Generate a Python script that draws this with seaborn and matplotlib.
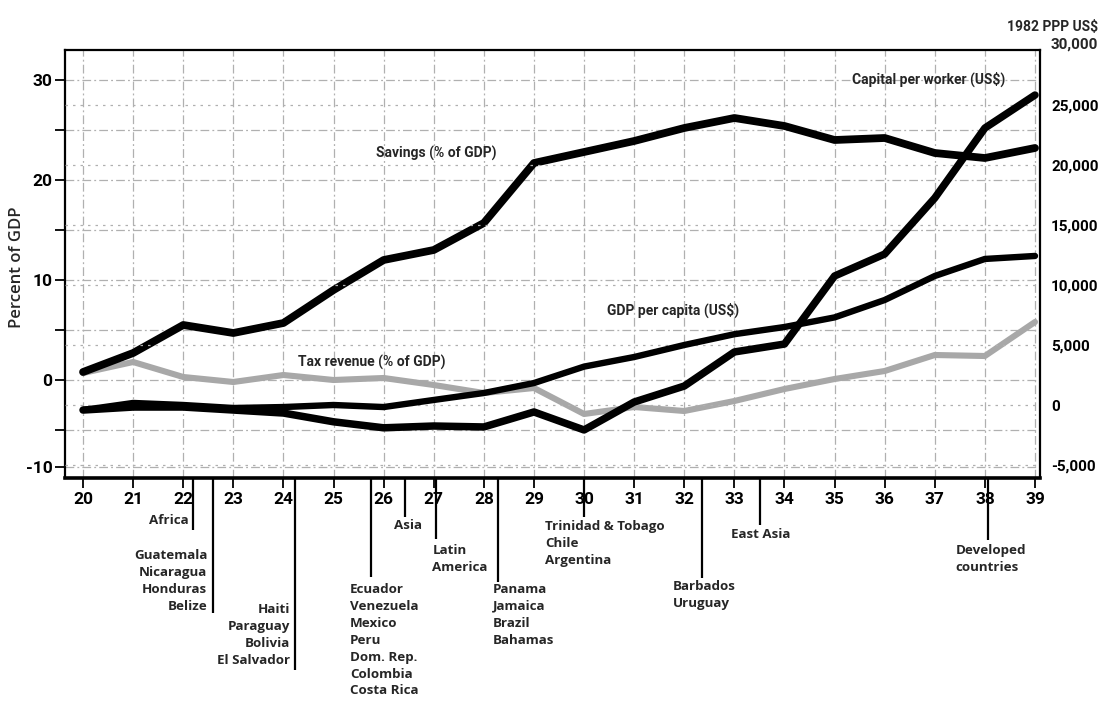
import matplotlib
matplotlib.use("Agg")
import matplotlib.pyplot as plt
import seaborn as sns
import numpy as np
import pandas as pd

# ---------------- data ----------------
years = list(range(20, 40))
savings_pct = [0.8, 2.7, 5.5, 4.7, 5.7, 9.0, 12.0, 13.0, 15.7, 21.7,
               22.8, 23.9, 25.2, 26.2, 25.4, 24.0, 24.2, 22.7, 22.2, 23.2]
tax_pct = [0.7, 1.8, 0.3, -0.2, 0.5, 0.0, 0.2, -0.5, -1.3, -0.8,
           -3.4, -2.7, -3.1, -2.1, -0.9, 0.1, 0.9, 2.5, 2.4, 5.8]
gdp_per_capita = [-420, 170, 0, -250, -170, 0, -170, 420, 1000, 1830,
                  3200, 4000, 5000, 5900, 6500, 7300, 8750, 10750, 12170, 12420]
capital_per_worker = [-420, -170, -170, -420, -670, -1400, -1900, -1750, -1830, -580,
                      -2080, 250, 1580, 4420, 5080, 10750, 12580, 17250, 23080, 25830]

left_ticks = [-10, 0, 10, 20, 30]
right_ticks = [-5000, 0, 5000, 10000, 15000, 20000, 25000, 30000]

group_x = [22.2, 22.6, 24.23, 25.75, 26.42, 27.05, 28.28, 30.0, 32.35, 33.52, 38.07]
group_labels = [
    "Africa",
    "Guatemala\nNicaragua\nHonduras\nBelize",
    "Haiti\nParaguay\nBolivia\nEl Salvador",
    "Ecuador\nVenezuela\nMexico\nPeru\nDom. Rep.\nColombia\nCosta Rica",
    "Asia",
    "Latin\nAmerica",
    "Panama\nJamaica\nBrazil\nBahamas",
    "Trinidad & Tobago\nChile\nArgentina",
    "Barbados\nUruguay",
    "East Asia",
    "Developed\ncountries",
]

df = pd.DataFrame({"year": years, "savings": savings_pct, "tax": tax_pct,
                   "gdp": gdp_per_capita, "capital": capital_per_worker})

# ---------------- style ----------------
sns.set_style("white")
NARROW = ["Roboto", "DejaVu Sans"]
OPEN = ["Open Sans", "DejaVu Sans"]
plt.rcParams["font.family"] = NARROW

W, H = 1100, 705
fig = plt.figure(figsize=(W / 100, H / 100), dpi=100)
# frame: x 65..1040, y 50..478 (pixels)
ax = fig.add_axes([65 / W, 1 - 478 / H, (1040 - 65) / W, (478 - 50) / H])
ax2 = ax.twinx()

ax.set_xlim(19.64, 39.10)
ax.set_ylim(-9.8, 33.0)
ax2.set_ylim(-6083, 29583)

grid_col = "#b0b0b0"
ax.set_xticks(years)
ax.set_xticklabels([str(y) for y in years])
# the -10 label sits a little higher than a linear scale would put it in the reference
left_pos = [-8.7 if v == -10 else v for v in left_ticks]
ax.set_yticks(left_pos)
ax.set_yticklabels([str(v) for v in left_ticks])
ax.set_yticks([-5, 5, 15, 25], minor=True)
ax.grid(True, axis="both", which="both", color=grid_col, lw=0.9,
        linestyle=(0, (7, 2.5, 1.5, 2.5)), zorder=0)
ax.set_axisbelow(True)

shown_right = [t for t in right_ticks if t < 30000]
ax2.set_yticks(shown_right)
ax2.set_yticklabels([f"{t:,}" for t in shown_right])
ax2.grid(True, axis="y", color=grid_col, lw=0.9, linestyle=(0, (2, 4)))
ax2.set_axisbelow(True)

for lbl in ax.get_xticklabels() + ax.get_yticklabels():
    lbl.set_family(NARROW)
    lbl.set_fontweight("bold")
    lbl.set_fontsize(12.5)
for lbl in ax2.get_yticklabels():
    lbl.set_family(NARROW)
    lbl.set_fontweight("bold")
    lbl.set_fontsize(11)

ax.tick_params(axis="x", which="both", direction="out", length=7, width=1.3,
               pad=3, bottom=True, colors="black")
ax.tick_params(axis="y", which="both", direction="out", length=7, width=1.3,
               pad=2, left=True, colors="black")
ax2.tick_params(axis="y", length=0, pad=8, colors="black")

for name, sp in ax.spines.items():
    sp.set_color("black")
    sp.set_linewidth(1.6)
ax.spines["bottom"].set_linewidth(2.6)
for sp in ax2.spines.values():
    sp.set_visible(False)

# ---------------- series ----------------
kw = dict(solid_capstyle="round", solid_joinstyle="round", legend=False)
sns.lineplot(data=df, x="year", y="tax", ax=ax, color="#a8a8a8", lw=4.4, zorder=3, **kw)
sns.lineplot(data=df, x="year", y="savings", ax=ax, color="black", lw=5.6, zorder=4, **kw)
sns.lineplot(data=df, x="year", y="gdp", ax=ax2, color="black", lw=4.6, zorder=4, **kw)
sns.lineplot(data=df, x="year", y="capital", ax=ax2, color="black", lw=5.4, zorder=5, **kw)
for a in (ax, ax2):
    a.set_xlabel("")
    a.set_ylabel("")

# series labels
lab_kw = dict(family=NARROW, fontweight="bold", fontsize=10, va="center", ha="left")
ax.text(25.85, 22.7, "Savings (% of GDP)", **lab_kw)
ax.text(24.3, 1.8, "Tax revenue (% of GDP)", **lab_kw)
ax.text(30.45, 7.0, "GDP per capita (US$)", **lab_kw)
ax.text(35.35, 30.1, "Capital per worker (US$)", **lab_kw)

# right-axis top value sits just above the frame in the reference
ax2.text(1.0 + 11 / (1040 - 65), 30000, "30,000", transform=ax2.get_yaxis_transform(),
         ha="left", va="center", fontsize=11, fontweight="bold", family=NARROW,
         clip_on=False)
fig.text(1098 / W, 1 - 27 / H, "1982 PPP US$", ha="right", va="center",
         fontsize=10, fontweight="bold", family=NARROW)
fig.text(17 / W, 1 - 267 / H, "Percent of GDP", rotation=90, ha="center",
         va="center", fontsize=12, family=OPEN, fontweight="semibold")

# ---------------- group markers below the axis ----------------
px_per_unit = (1040 - 65) / (39.10 - 19.64)
axh = 478 - 50
# (line end y px, text anchor ha, text x offset px, text top y px)
layout = [
    (530, "right", -5, 514),
    (613, "right", -6, 549),
    (670, "right", -5, 603),
    (577, "left", -21, 583),
    (517, "center", 3, 519),
    (539, "left", -4, 544),
    (582, "left", -5, 583),
    (517, "left", -39, 520),
    (578, "left", -29, 580),
    (525, "center", 0, 528),
    (540, "left", -33, 544),
]
trans = ax.get_xaxis_transform()
for gx, lab, (yend, ha, dx, ytop) in zip(group_x, group_labels, layout):
    ax.plot([gx, gx], [0, -(yend - 478) / axh], transform=trans, color="black",
            lw=1.6, clip_on=False, solid_capstyle="butt", zorder=6)
    ax.text(gx + dx / px_per_unit, -(ytop - 478) / axh, lab, transform=trans,
            ha=ha, va="top", multialignment=ha,
            fontsize=9.6, fontweight="bold", family=OPEN, linespacing=1.39)

fig.savefig("out.png", dpi=100)
